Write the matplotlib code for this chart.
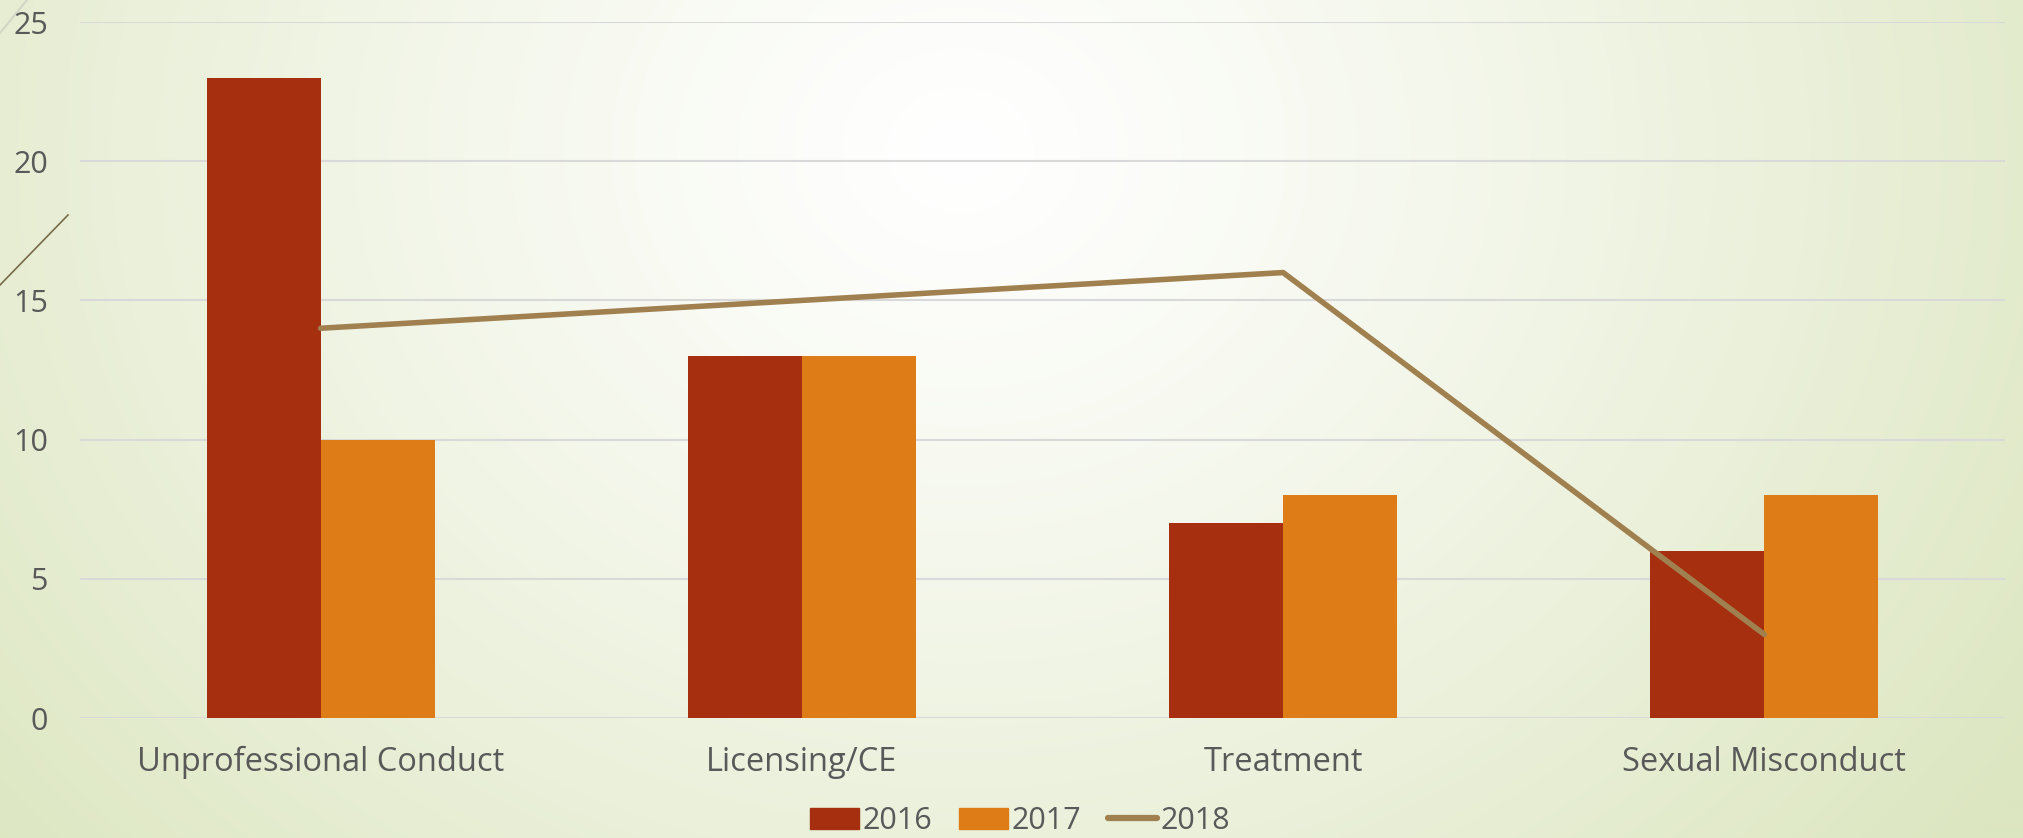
import numpy as np
import matplotlib
matplotlib.use("Agg")
import matplotlib.pyplot as plt
from matplotlib.lines import Line2D
from matplotlib.patches import Patch

categories = ["Unprofessional Conduct", "Licensing/CE", "Treatment", "Sexual Misconduct"]
s2016 = [23, 13, 7, 6]
s2017 = [10, 13, 8, 8]
s2018 = [14, 15, 16, 3]
yticks = [0, 5, 10, 15, 20, 25]

c2016 = "#A52F0F"
c2017 = "#DE7D18"
c2018 = "#A0804F"
txt = "#595959"

plt.rcParams['font.family'] = ['Open Sans', 'DejaVu Sans']

W, H = 2023, 838
fig = plt.figure(figsize=(W / 100, H / 100), dpi=100)

# background radial gradient
bg = fig.add_axes([0, 0, 1, 1])
yy, xx = np.mgrid[0:H, 0:W]
cx, cy = 960, 150
r = np.sqrt(((xx - cx) / 1300.0) ** 2 + ((yy - cy) / 1100.0) ** 2)
r = np.clip(r, 0, 1) ** 1.2
inner = np.array([1.0, 1.0, 1.0])
outer = np.array([0xDC, 0xE6, 0xC0]) / 255.0
img = inner[None, None, :] * (1 - r[..., None]) + outer[None, None, :] * r[..., None]
bg.imshow(img, extent=[0, W, H, 0], aspect='auto', interpolation='bilinear')
bg.set_xlim(0, W)
bg.set_ylim(H, 0)
bg.axis('off')
# decorative theme lines
bg.plot([0, 27], [33, 0], color="#D2D6C4", lw=1.5)
bg.plot([0, 68], [285, 215], color="#7A6A4A", lw=1.2)

left, right = 80 / W, 2005 / W
bottom, top = 1 - 718 / H, 1 - 22 / H
ax = fig.add_axes([left, bottom, right - left, top - bottom])
ax.patch.set_alpha(0)

x = np.arange(len(categories))
bw = 0.237
ax.bar(x - bw / 2, s2016, bw, color=c2016, zorder=2, label="2016")
ax.bar(x + bw / 2, s2017, bw, color=c2017, zorder=2, label="2017")
ax.plot(x, s2018, color=c2018, lw=4, solid_capstyle='round', solid_joinstyle='round', zorder=3, label="2018")

ax.set_xlim(-0.5, 3.5)
ax.set_ylim(0, 25)
ax.set_yticks(yticks)
ax.set_yticklabels([str(v) for v in yticks])
ax.set_xticks(x)
ax.set_xticklabels(categories)
ax.grid(axis='y', color="#D9D9D9", lw=1.5, zorder=0)
ax.set_axisbelow(True)
for s in ax.spines.values():
    s.set_visible(False)
ax.tick_params(axis='both', length=0, labelsize=22, colors=txt)
ax.tick_params(axis='x', labelsize=23.5, pad=20)
ax.tick_params(axis='y', pad=23)

handles = [Patch(color=c2016), Patch(color=c2017),
           Line2D([0], [0], color=c2018, lw=4.5, solid_capstyle='round')]
leg = fig.legend(handles, ["2016", "2017", "2018"], loc='center', bbox_to_anchor=(1020 / W, 1 - 821 / H),
                 ncol=3, frameon=False, fontsize=22, handlelength=1.6, handleheight=0.7,
                 handletextpad=0.1, columnspacing=0.9, labelcolor=txt)

fig.savefig("out.png", dpi=100)
